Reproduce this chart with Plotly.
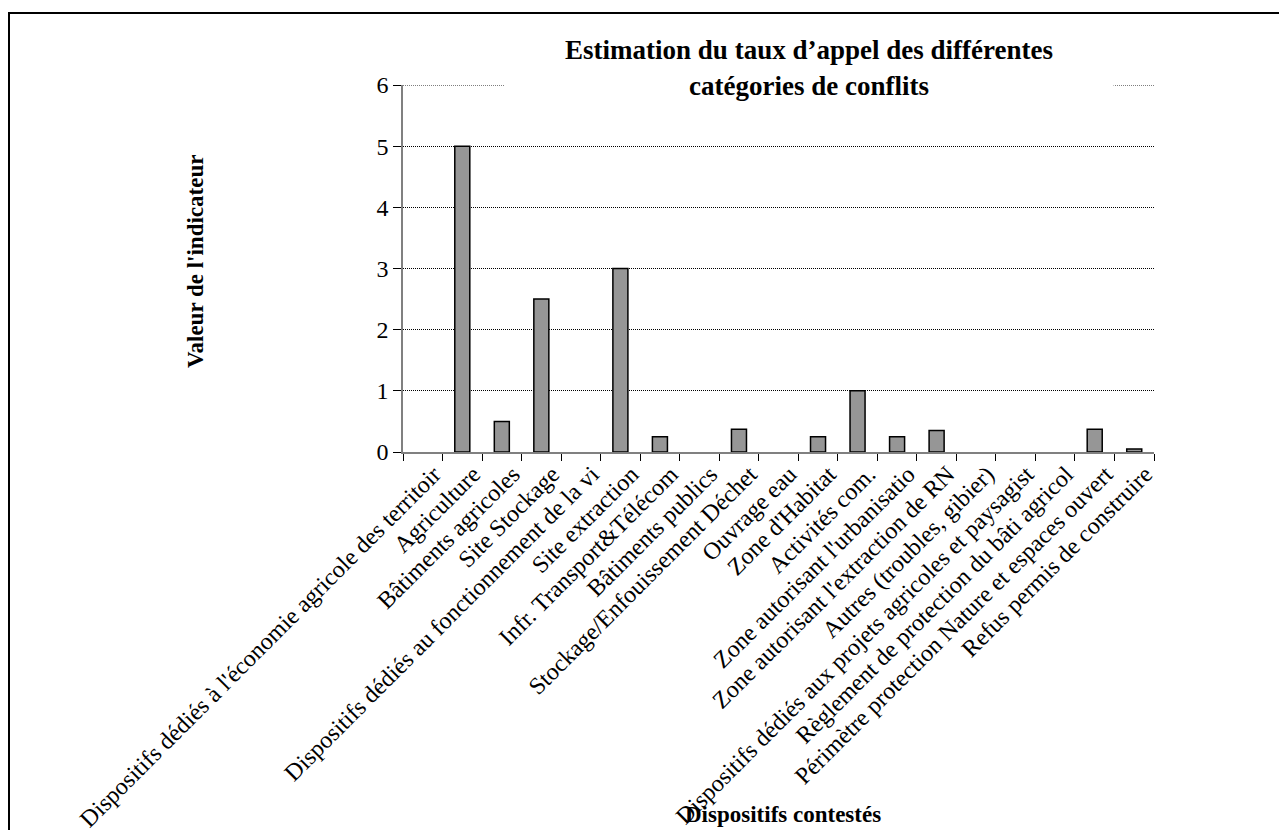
import plotly.graph_objects as go

categories = [
    "Dispositifs dédiés à l'économie agricole des territoir",
    "Agriculture",
    "Bâtiments agricoles",
    "Site Stockage",
    "Dispositifs dédiés au fonctionnement de la vi",
    "Site extraction",
    "Infr. Transport&Télécom",
    "Bâtiments publics",
    "Stockage/Enfouissement Déchet",
    "Ouvrage eau",
    "Zone d'Habitat",
    "Activités com.",
    "Zone autorisant l'urbanisatio",
    "Zone autorisant l'extraction de RN",
    "Autres (troubles, gibier)",
    "Dispositifs dédiés aux projets agricoles et paysagist",
    "Règlement de protection du bâti agricol",
    "Périmètre protection Nature et espaces ouvert",
    "Refus permis de construire",
]
values = [0, 5, 0.5, 2.5, 0, 3, 0.25, 0, 0.37, 0, 0.25, 1, 0.25, 0.35, 0, 0, 0, 0.37, 0.05]
y_ticks = [0, 1, 2, 3, 4, 5, 6]

title_lines = ["Estimation du taux d’appel des différentes", "catégories de conflits"]
y_title = "Valeur de l'indicateur"
x_title = "Dispositifs contestés"

W, H = 1279, 830
L, R, T, B = 403, 125, 85, 378
pw, ph = W - L - R, H - T - B

def px_x(x):
    return (x - L) / pw

def px_y(y):
    return (H - B - y) / ph

FONT = "Liberation Serif, Times New Roman, serif"

# zero-height bars are not drawn in the reference
bar_y = [v if v != 0 else None for v in values]

fig = go.Figure(
    go.Bar(
        x=categories,
        y=bar_y,
        marker=dict(color="#969696", line=dict(color="black", width=1.5)),
        hoverinfo="x+y",
    )
)

fig.update_layout(
    width=W,
    height=H,
    margin=dict(l=L, r=R, t=T, b=B),
    paper_bgcolor="white",
    plot_bgcolor="white",
    bargap=0.62,
    showlegend=False,
    font=dict(family=FONT, color="black"),
)

fig.update_xaxes(
    type="category",
    categoryorder="array",
    categoryarray=categories,
    tickangle=-45,
    tickfont=dict(family=FONT, size=24, color="black"),
    ticklabelshift=11,
    ticklabelstandoff=-3,
    showline=True,
    linecolor="#808080",
    linewidth=1.5,
    ticks="outside",
    tickson="boundaries",
    ticklen=7,
    tickcolor="black",
    tickwidth=1.2,
    showgrid=False,
    automargin=False,
)
fig.update_yaxes(
    range=[0, 6],
    tickvals=y_ticks,
    tickfont=dict(family=FONT, size=24, color="black"),
    showline=True,
    linecolor="#808080",
    linewidth=1.5,
    ticks="outside",
    ticklen=8,
    tickcolor="black",
    tickwidth=1.2,
    showgrid=True,
    gridcolor="black",
    gridwidth=1,
    griddash="1px,1px",
    zeroline=False,
    automargin=False,
)

# top gridline (at the top of the range, not drawn by plotly itself)
fig.add_shape(
    type="line", xref="paper", yref="y",
    x0=0, x1=1, y0=y_ticks[-1], y1=y_ticks[-1],
    line=dict(color="black", width=1, dash="1px,1px"), layer="below",
)

# outer frame (clipped on right and bottom)
fig.add_shape(
    type="rect", xref="paper", yref="paper",
    x0=px_x(9), x1=px_x(1300), y0=px_y(13), y1=px_y(850),
    line=dict(color="black", width=2), fillcolor="rgba(0,0,0,0)", layer="above",
)

# title with white background box hiding gridline
fig.add_annotation(
    x=px_x(809), y=px_y(68), xref="paper", yref="paper",
    text="<br>".join(title_lines), showarrow=False,
    font=dict(family=FONT, size=27, color="black", weight="bold"),
    bgcolor="white", width=606, height=74, align="center",
    xanchor="center", yanchor="middle",
)

fig.add_annotation(
    x=px_x(195), y=px_y(262), xref="paper", yref="paper",
    text=y_title, showarrow=False, textangle=-90,
    font=dict(family=FONT, size=23, color="black", weight="bold"),
    xanchor="center", yanchor="middle",
)

fig.add_annotation(
    x=px_x(783), y=px_y(815), xref="paper", yref="paper",
    text=x_title, showarrow=False,
    font=dict(family=FONT, size=23, color="black", weight="bold"),
    xanchor="center", yanchor="middle",
)

fig.write_html(
    "out.html",
    config={"displayModeBar": False},
    post_script="document.body.style.margin='0';document.body.style.overflow='hidden';",
)
